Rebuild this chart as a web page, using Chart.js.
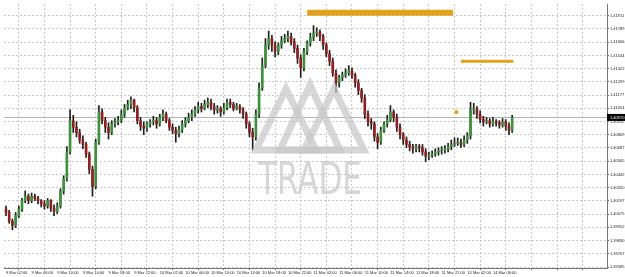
<!DOCTYPE html>
<html>
<head>
<meta charset="utf-8">
<script src="https://cdn.jsdelivr.net/npm/chart.js@4/dist/chart.umd.min.js"></script>
<style>
  html, body { margin: 0; background: #fff; }
</style>
</head>
<body>
<canvas id="chart" width="625" height="277"></canvas>
<script>
// half-hour candles, 9 Mar 02:00 -> 14 Mar 07:00
const opens = [
  1.4012,1.4009,1.4001,1.3997,1.4006,1.4012,1.4020,1.4024,1.4020,1.4024,
  1.4022,1.4020,1.4017,1.4015,1.4020,1.4013,1.4010,1.4015,1.4029,1.4040,
  1.4065,1.4094,1.4088,1.4083,1.4076,1.4072,1.4063,1.4049,1.4033,1.4074,
  1.4102,1.4094,1.4088,1.4083,1.4091,1.4093,1.4094,1.4100,1.4106,1.4109,
  1.4113,1.4106,1.4094,1.4089,1.4087,1.4091,1.4093,1.4094,1.4091,1.4097,
  1.4100,1.4094,1.4088,1.4085,1.4082,1.4086,1.4091,1.4094,1.4097,1.4100,
  1.4104,1.4107,1.4105,1.4109,1.4111,1.4107,1.4104,1.4105,1.4102,1.4106,
  1.4111,1.4109,1.4105,1.4107,1.4104,1.4100,1.4091,1.4083,1.4079,1.4100,
  1.4124,1.4145,1.4164,1.4170,1.4164,1.4158,1.4164,1.4168,1.4170,1.4172,
  1.4167,1.4161,1.4152,1.4143,1.4158,1.4166,1.4171,1.4175,1.4176,1.4172,
  1.4164,1.4156,1.4149,1.4138,1.4129,1.4134,1.4136,1.4138,1.4140,1.4136,
  1.4129,1.4122,1.4115,1.4100,1.4093,1.4091,1.4079,1.4074,1.4085,1.4091,
  1.4095,1.4102,1.4097,1.4088,1.4081,1.4076,1.4072,1.4070,1.4068,1.4070,
  1.4069,1.4065,1.4061,1.4062,1.4063,1.4065,1.4066,1.4067,1.4068,1.4070,
  1.4072,1.4073,1.4074,1.4072,1.4076,1.4080,1.4104,1.4105,1.4100,1.4095,
  1.4093,1.4094,1.4091,1.4093,1.4092,1.4090,1.4093,1.4089,1.4085
];
const closes = [
  1.4009,1.4001,1.3997,1.4006,1.4012,1.4020,1.4024,1.4020,1.4024,1.4022,
  1.4020,1.4017,1.4015,1.4020,1.4013,1.4010,1.4015,1.4029,1.4040,1.4065,
  1.4094,1.4088,1.4083,1.4076,1.4072,1.4063,1.4049,1.4033,1.4074,1.4102,
  1.4094,1.4088,1.4083,1.4091,1.4093,1.4094,1.4100,1.4106,1.4109,1.4113,
  1.4106,1.4094,1.4089,1.4087,1.4091,1.4093,1.4094,1.4091,1.4097,1.4100,
  1.4094,1.4088,1.4085,1.4082,1.4086,1.4091,1.4094,1.4097,1.4100,1.4104,
  1.4107,1.4105,1.4109,1.4111,1.4107,1.4104,1.4105,1.4102,1.4106,1.4111,
  1.4109,1.4105,1.4107,1.4104,1.4100,1.4091,1.4083,1.4079,1.4100,1.4124,
  1.4145,1.4164,1.4170,1.4164,1.4158,1.4164,1.4168,1.4170,1.4172,1.4167,
  1.4161,1.4152,1.4143,1.4158,1.4166,1.4171,1.4175,1.4176,1.4172,1.4164,
  1.4156,1.4149,1.4138,1.4129,1.4134,1.4136,1.4138,1.4140,1.4136,1.4129,
  1.4122,1.4115,1.4100,1.4093,1.4091,1.4079,1.4074,1.4085,1.4091,1.4095,
  1.4102,1.4097,1.4088,1.4081,1.4076,1.4072,1.4070,1.4068,1.4070,1.4069,
  1.4065,1.4061,1.4062,1.4063,1.4065,1.4066,1.4067,1.4068,1.4070,1.4072,
  1.4073,1.4074,1.4072,1.4076,1.4080,1.4104,1.4105,1.4100,1.4095,1.4093,
  1.4094,1.4091,1.4093,1.4092,1.4090,1.4093,1.4089,1.4085,1.4097
];
const highs = [
  1.4015,1.4011,1.4003,1.4009,1.4015,1.4022,1.4029,1.4026,1.4027,1.4026,
  1.4024,1.4021,1.4020,1.4022,1.4021,1.4016,1.4018,1.4031,1.4043,1.4070,
  1.4104,1.4099,1.4093,1.4086,1.4080,1.4074,1.4065,1.4052,1.4077,1.4108,
  1.4105,1.4097,1.4092,1.4094,1.4096,1.4098,1.4104,1.4109,1.4113,1.4116,
  1.4114,1.4108,1.4097,1.4093,1.4093,1.4095,1.4098,1.4097,1.4100,1.4104,
  1.4102,1.4096,1.4091,1.4088,1.4089,1.4094,1.4097,1.4101,1.4104,1.4107,
  1.4111,1.4110,1.4113,1.4115,1.4114,1.4110,1.4108,1.4107,1.4110,1.4114,
  1.4114,1.4111,1.4110,1.4109,1.4106,1.4102,1.4093,1.4087,1.4104,1.4129,
  1.4152,1.4170,1.4177,1.4173,1.4167,1.4166,1.4172,1.4174,1.4177,1.4175,
  1.4170,1.4164,1.4155,1.4161,1.4168,1.4175,1.4182,1.4180,1.4178,1.4174,
  1.4166,1.4159,1.4152,1.4141,1.4136,1.4139,1.4142,1.4145,1.4143,1.4138,
  1.4132,1.4124,1.4118,1.4103,1.4096,1.4093,1.4082,1.4088,1.4093,1.4099,
  1.4108,1.4104,1.4100,1.4091,1.4083,1.4079,1.4075,1.4072,1.4072,1.4072,
  1.4072,1.4068,1.4065,1.4066,1.4068,1.4069,1.4070,1.4071,1.4073,1.4076,
  1.4078,1.4078,1.4077,1.4080,1.4083,1.4111,1.4110,1.4107,1.4103,1.4098,
  1.4097,1.4096,1.4097,1.4095,1.4094,1.4096,1.4095,1.4092,1.4099
];
const lows = [
  1.4006,1.3999,1.3993,1.3995,1.4004,1.4010,1.4018,1.4017,1.4018,1.4020,
  1.4017,1.4014,1.4012,1.4013,1.4010,1.4006,1.4008,1.4013,1.4026,1.4038,
  1.4063,1.4083,1.4079,1.4073,1.4068,1.4060,1.4045,1.4024,1.4031,1.4072,
  1.4091,1.4083,1.4077,1.4081,1.4088,1.4090,1.4092,1.4097,1.4104,1.4105,
  1.4102,1.4091,1.4085,1.4081,1.4084,1.4088,1.4090,1.4087,1.4089,1.4094,
  1.4092,1.4085,1.4082,1.4074,1.4079,1.4083,1.4088,1.4092,1.4094,1.4098,
  1.4101,1.4102,1.4104,1.4106,1.4104,1.4100,1.4101,1.4098,1.4100,1.4104,
  1.4106,1.4103,1.4104,1.4101,1.4096,1.4087,1.4079,1.4067,1.4076,1.4097,
  1.4122,1.4143,1.4160,1.4158,1.4153,1.4155,1.4161,1.4166,1.4167,1.4164,
  1.4157,1.4147,1.4134,1.4140,1.4155,1.4163,1.4168,1.4172,1.4168,1.4160,
  1.4153,1.4145,1.4135,1.4120,1.4125,1.4131,1.4134,1.4136,1.4133,1.4125,
  1.4118,1.4111,1.4096,1.4089,1.4086,1.4075,1.4068,1.4072,1.4083,1.4088,
  1.4093,1.4093,1.4084,1.4077,1.4072,1.4069,1.4066,1.4064,1.4065,1.4065,
  1.4062,1.4056,1.4058,1.4060,1.4061,1.4062,1.4063,1.4064,1.4065,1.4067,
  1.4070,1.4071,1.4069,1.4070,1.4073,1.4077,1.4100,1.4096,1.4092,1.4089,
  1.4091,1.4088,1.4089,1.4089,1.4087,1.4088,1.4085,1.4081,1.4083
];

const timeLabels = [
  '9 Mar 02:00','9 Mar 06:00','9 Mar 10:00','9 Mar 14:00','9 Mar 18:00','9 Mar 22:00',
  '10 Mar 02:00','10 Mar 06:00','10 Mar 10:00','10 Mar 14:00','10 Mar 18:00','10 Mar 22:00',
  '11 Mar 02:00','11 Mar 06:00','11 Mar 10:00','11 Mar 14:00','11 Mar 18:00','11 Mar 22:00',
  '14 Mar 02:00','14 Mar 06:00'
];
const barsPerLabel = 8;
const priceTicks = [
  1.39585,1.39707,1.39830,1.39952,1.40075,1.40197,1.40320,1.40442,1.40565,1.40687,
  1.40809,1.40932,1.41054,1.41177,1.41299,1.41422,1.41544,1.41666,1.41789,1.41911
];

// drawn levels (price, first bar, last bar)
const levelPrices = [1.4194, 1.4149];
const levelFrom = [94, 142];
const levelTo = [139.5, 158.4];
const markerBar = 140.6, markerPrice = 1.4102;

const UP = '#3f8f3f', DOWN = '#8e1f1f', WICK = '#1e1e1e', LEVEL = '#e0a21c';

const idx = closes.map((_, i) => i);
const wickData = idx.map(i => ({ x: i, y: [lows[i], highs[i]] }));
const bodyData = idx.map(i => ({ x: i, y: [opens[i], closes[i]] }));
const bodyColors = idx.map(i => closes[i] > opens[i] ? UP : (closes[i] < opens[i] ? DOWN : WICK));

const levelSets = levelPrices.map((p, k) => ({
  type: 'line',
  data: [{ x: levelFrom[k], y: p }, { x: levelTo[k], y: p }],
  borderColor: LEVEL,
  borderWidth: k === 0 ? 6 : 3,
  borderCapStyle: 'butt',
  pointRadius: 0,
  order: -1
}));

const lastClose = closes[closes.length - 1];

const chartPlugin = {
  id: 'mtExtras',
  beforeDatasetsDraw(chart) {
    const { ctx, chartArea: a, scales: { y } } = chart;
    const py = Math.round(y.getPixelForValue(lastClose)) + 0.5;
    ctx.save();
    ctx.strokeStyle = '#b4b4b4';
    ctx.lineWidth = 1;
    ctx.beginPath();
    ctx.moveTo(a.left, py);
    ctx.lineTo(a.right, py);
    ctx.stroke();
    ctx.restore();
  },
  afterDatasetsDraw(chart) {
    const { ctx } = chart;
    // watermark logo
    ctx.save();
    ctx.strokeStyle = 'rgba(200,200,200,0.72)';
    ctx.lineWidth = 7;
    ctx.lineJoin = 'miter';
    [[286, 89], [310, 85], [334, 89]].forEach(([ax, ay]) => {
      ctx.beginPath();
      ctx.moveTo(ax, ay);
      ctx.lineTo(ax - 30, 150);
      ctx.lineTo(ax + 30, 150);
      ctx.closePath();
      ctx.stroke();
    });
    ctx.fillStyle = 'rgba(200,200,200,0.72)';
    ctx.font = "44px 'DejaVu Sans Condensed', 'DejaVu Sans', sans-serif";
    ctx.textBaseline = 'alphabetic';
    const w = ctx.measureText('TRADE').width;
    ctx.translate(258, 194);
    ctx.scale(104 / w, 1);
    ctx.fillText('TRADE', 0, 0);
    ctx.restore();
  },
  afterDraw(chart) {
    const { ctx, chartArea: a, scales: { y } } = chart;
    const py = y.getPixelForValue(lastClose);
    ctx.save();
    ctx.fillStyle = '#000';
    ctx.fillRect(a.right, py - 3.5, 625 - a.right, 7);
    ctx.fillStyle = '#fff';
    ctx.font = '4px "Liberation Sans", sans-serif';
    ctx.textBaseline = 'middle';
    ctx.fillText(lastClose.toFixed(5), a.right + 3, py);
    ctx.restore();
  }
};

new Chart(document.getElementById('chart'), {
  type: 'bar',
  data: {
    datasets: [
      ...levelSets,
      {
        type: 'line',
        data: [{ x: markerBar, y: markerPrice }],
        showLine: false,
        pointStyle: 'rect',
        pointRadius: 2.5,
        pointBackgroundColor: LEVEL,
        pointBorderWidth: 0,
        order: -1
      },
      {
        data: bodyData,
        backgroundColor: bodyColors,
        barThickness: 2,
        minBarLength: 1,
        grouped: false,
        order: 0
      },
      {
        data: wickData,
        backgroundColor: WICK,
        barThickness: 1,
        grouped: false,
        order: 1
      }
    ]
  },
  plugins: [chartPlugin],
  options: {
    responsive: false,
    animation: false,
    layout: { padding: 0 },
    plugins: { legend: { display: false }, tooltip: { enabled: false } },
    scales: {
      x: {
        type: 'linear',
        min: -0.62,
        max: 187.6,
        offset: false,
        afterBuildTicks: s => {
          const t = [];
          for (let v = 0; v <= 184; v += barsPerLabel) t.push({ value: v });
          s.ticks = t;
        },
        afterFit: s => { s.height = 9; },
        grid: { color: '#c8c8c8', tickLength: 2, tickColor: '#666' },
        border: { color: '#777', dash: [2, 2] },
        ticks: {
          autoSkip: false,
          maxRotation: 0,
          align: 'start',
          padding: 0,
          color: '#222',
          font: { size: 4, family: 'Liberation Sans' },
          callback: v => timeLabels[v / barsPerLabel] || ''
        }
      },
      y: {
        position: 'right',
        min: 1.39576,
        max: 1.4202,
        afterBuildTicks: s => { s.ticks = priceTicks.map(v => ({ value: v })); },
        afterFit: s => { s.width = 18; },
        grid: { color: '#c8c8c8', tickLength: 2, tickColor: '#666' },
        border: { color: '#777', dash: [2, 2] },
        ticks: {
          padding: 1,
          color: '#222',
          font: { size: 4, family: 'Liberation Sans' },
          callback: v => v.toFixed(5)
        }
      }
    }
  }
});
</script>
</body>
</html>
